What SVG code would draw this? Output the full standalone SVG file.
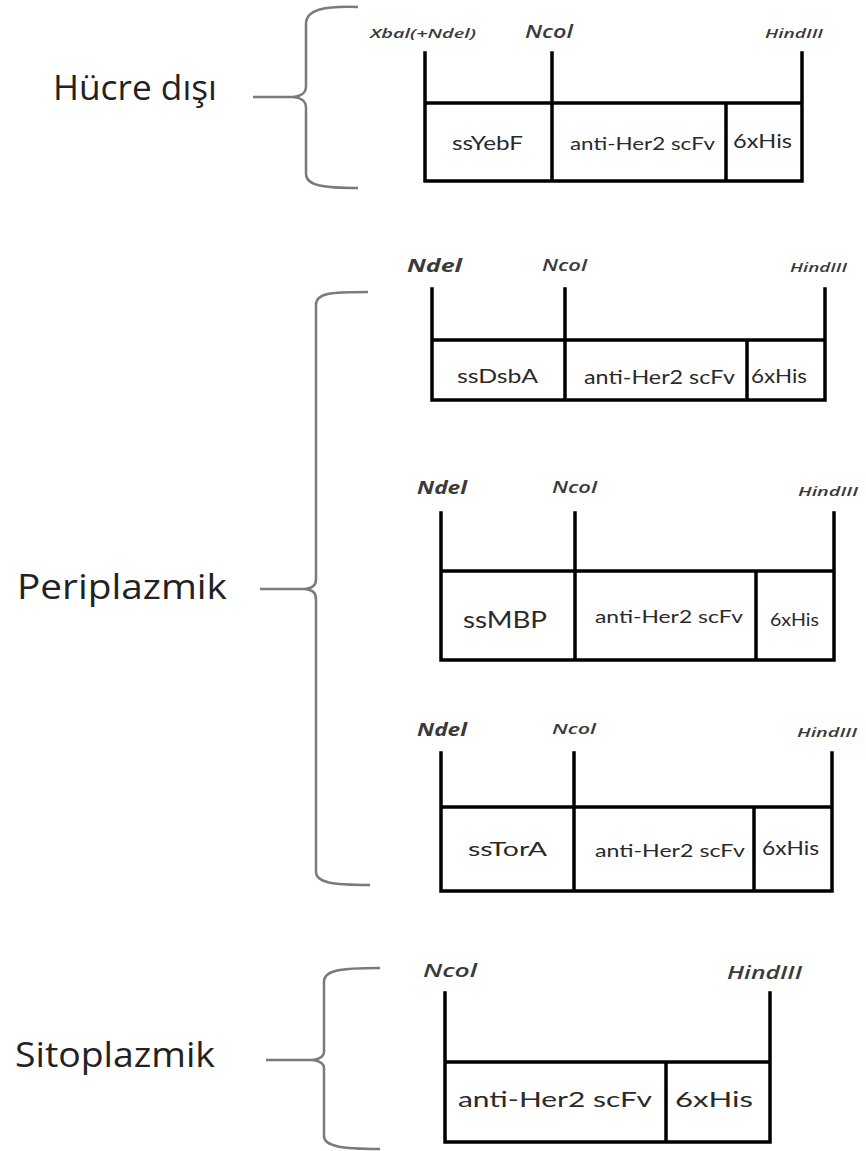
<svg xmlns="http://www.w3.org/2000/svg" width="866" height="1151" viewBox="0 0 866 1151">
<style>
.ln{stroke:#000;stroke-width:3.5;fill:none;stroke-linecap:square}
.br{stroke:#7a7a7a;stroke-width:2.5;fill:none}
.big{font-family:"Open Sans","Noto Sans",sans-serif;font-size:34px;fill:#222}
.bx{font-family:Lato,"Open Sans",sans-serif;fill:#2a2a2a;text-anchor:start}
.site{font-family:"Open Sans","Noto Sans",sans-serif;font-style:italic;font-weight:600;fill:#3a3a3a}
.sb{font-weight:bold}
</style>
<rect width="866" height="1151" fill="#fff"/>
<g id="labels">
<g id="lbl-hucre"><text class="big" x="53" y="100" textLength="164" lengthAdjust="spacingAndGlyphs">Hücre dışı</text></g>
<g id="lbl-peri"><text class="big" x="17" y="599" textLength="210" lengthAdjust="spacingAndGlyphs">Periplazmik</text></g>
<g id="lbl-sito"><text class="big" x="15" y="1067" textLength="200" lengthAdjust="spacingAndGlyphs">Sitoplazmik</text></g>
</g>
<g id="connectors">
<path class="br" d="M358,7 C325,6 306,9 306,24 L306,86 C306,93 302,96 293,97 C302,98 306,101 306,108 L306,174 C306,186 325,188 358,188"/>
<path class="br" d="M253,97 H293"/>
<path class="br" d="M368,292 C330,292 316,293 316,305 L316,579 C316,586 312,588 305,589 C312,590 316,592 316,599 L316,872 C316,882 330,885 370,885"/>
<path class="br" d="M260,589 H305"/>
<path class="br" d="M380,968 C340,968 324,970 324,982 L324,1052 C324,1057 320,1059 313,1060 C320,1061 324,1063 324,1068 L324,1136 C324,1146 340,1149 380,1149"/>
<path class="br" d="M266,1060 H313"/>
</g>
<g id="c1-yebf">
<path class="ln" d="M425,53 V181 M552,53 V181 M802,53 V181 M425,103 H802 M425,181 H802 M726,103 V181"/>
<text class="site" x="370" y="38" font-size="13" textLength="106" lengthAdjust="spacingAndGlyphs">Xbal(+Ndel)</text>
<text class="site" x="525" y="38" font-size="18" textLength="48" lengthAdjust="spacingAndGlyphs">Ncol</text>
<text class="site" x="765" y="38" font-size="13" textLength="58" lengthAdjust="spacingAndGlyphs">HindIII</text>
<text class="bx" x="452" y="150" font-size="20" textLength="71" lengthAdjust="spacingAndGlyphs">ssYebF</text>
<text class="bx" x="570" y="150" font-size="18" textLength="145" lengthAdjust="spacingAndGlyphs">anti-Her2 scFv</text>
<text class="bx" x="733" y="148" font-size="20" textLength="59" lengthAdjust="spacingAndGlyphs">6xHis</text>
</g>
<g id="c2-dsba">
<path class="ln" d="M432,289 V400 M565,289 V400 M825,289 V400 M432,340 H825 M432,400 H825 M747,340 V400"/>
<text class="site sb" x="407" y="272" font-size="17" textLength="55" lengthAdjust="spacingAndGlyphs">Ndel</text>
<text class="site" x="542" y="271" font-size="16" textLength="45" lengthAdjust="spacingAndGlyphs">Ncol</text>
<text class="site" x="790" y="272" font-size="13" textLength="57" lengthAdjust="spacingAndGlyphs">HindIII</text>
<text class="bx" x="457" y="383" font-size="20" textLength="81" lengthAdjust="spacingAndGlyphs">ssDsbA</text>
<text class="bx" x="584" y="384" font-size="19" textLength="151" lengthAdjust="spacingAndGlyphs">anti-Her2 scFv</text>
<text class="bx" x="751" y="383" font-size="20" textLength="56" lengthAdjust="spacingAndGlyphs">6xHis</text>
</g>
<g id="c3-mbp">
<path class="ln" d="M441,513 V660 M575,513 V660 M834,513 V660 M441,571 H834 M441,660 H834 M756,571 V660"/>
<text class="site sb" x="417" y="494" font-size="17" textLength="50" lengthAdjust="spacingAndGlyphs">Ndel</text>
<text class="site" x="552" y="493" font-size="16" textLength="45" lengthAdjust="spacingAndGlyphs">Ncol</text>
<text class="site" x="798" y="496" font-size="13" textLength="60" lengthAdjust="spacingAndGlyphs">HindIII</text>
<text class="bx" x="463" y="628" font-size="24" textLength="84" lengthAdjust="spacingAndGlyphs">ssMBP</text>
<text class="bx" x="595" y="623" font-size="18" textLength="148" lengthAdjust="spacingAndGlyphs">anti-Her2 scFv</text>
<text class="bx" x="770" y="626" font-size="18" textLength="49" lengthAdjust="spacingAndGlyphs">6xHis</text>
</g>
<g id="c4-tora">
<path class="ln" d="M441,753 V891 M574,753 V891 M832,753 V891 M441,807 H832 M441,891 H832 M754,807 V891"/>
<text class="site sb" x="417" y="736" font-size="17" textLength="50" lengthAdjust="spacingAndGlyphs">Ndel</text>
<text class="site" x="552" y="734" font-size="15" textLength="44" lengthAdjust="spacingAndGlyphs">Ncol</text>
<text class="site" x="797" y="737" font-size="12" textLength="60" lengthAdjust="spacingAndGlyphs">HindIII</text>
<text class="bx" x="468" y="856" font-size="20" textLength="79" lengthAdjust="spacingAndGlyphs">ssTorA</text>
<text class="bx" x="595" y="857" font-size="18" textLength="150" lengthAdjust="spacingAndGlyphs">anti-Her2 scFv</text>
<text class="bx" x="762" y="855" font-size="20" textLength="57" lengthAdjust="spacingAndGlyphs">6xHis</text>
</g>
<g id="c5-cyto">
<path class="ln" d="M445,993 V1142 M770,993 V1142 M445,1062 H770 M445,1142 H770 M666,1062 V1142"/>
<text class="site" x="423" y="977" font-size="18" textLength="54" lengthAdjust="spacingAndGlyphs">Ncol</text>
<text class="site" x="727" y="979" font-size="18" textLength="75" lengthAdjust="spacingAndGlyphs">HindIII</text>
<text class="bx" x="458" y="1107" font-size="22" textLength="194" lengthAdjust="spacingAndGlyphs">anti-Her2 scFv</text>
<text class="bx" x="675" y="1107" font-size="22" textLength="78" lengthAdjust="spacingAndGlyphs">6xHis</text>
</g>
</svg>
